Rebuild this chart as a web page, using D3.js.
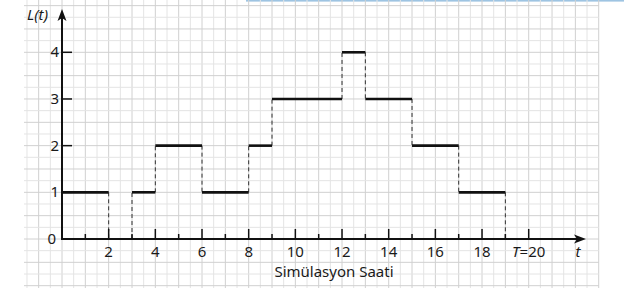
<!DOCTYPE html>
<html>
<head>
<meta charset="utf-8">
<script src="https://cdn.jsdelivr.net/npm/d3@7"></script>
<style>
  body { margin: 0; background: #fff; }
  svg { display: block; font-family: "Noto Sans", "Open Sans", sans-serif; }
</style>
</head>
<body>
<div id="chart"></div>
<script>
// step function L(t): level on [start, next start)
var stepStarts = [0, 2, 3, 4, 6, 8, 9, 12, 13, 15, 17, 19];
var stepLevels = [1, 0, 1, 2, 1, 2, 3, 4, 3, 2, 1, 0];
var endTime = 20;
var xTickLabels = [2, 4, 6, 8, 10, 12, 14, 16, 18];
var yTickLabels = [1, 2, 3, 4];

var width = 628, height = 288;

var svg = d3.select("#chart")
  .append("svg")
  .attr("width", width)
  .attr("height", height);

var x = d3.scaleLinear().domain([0, 20]).range([62, 528.7]);
var y = d3.scaleLinear().domain([0, 4]).range([239, 52.3]);

// light blue strip along the top
svg.append("rect")
  .attr("x", 246).attr("y", 0)
  .attr("width", 378).attr("height", 1.6)
  .attr("fill", "#9ec4e2");

// square paper grid
var grid = svg.append("g");
var gx = d3.range(-3, 48).map(function (k) { return k / 2; }).filter(function (v) { return x(v) >= 24 && x(v) <= 599; });
var gy = d3.range(-4, 22).map(function (k) { return k / 4; });

grid.selectAll(".gv")
  .data(gx)
  .enter()
  .append("line")
  .attr("x1", function (d) { return x(d); })
  .attr("x2", function (d) { return x(d); })
  .attr("y1", 0).attr("y2", height)
  .attr("stroke", function (d) { return d % 1 === 0 ? "#d0d0d0" : "#e4e4e4"; })
  .attr("stroke-width", 1);

grid.selectAll(".gh")
  .data(gy)
  .enter()
  .append("line")
  .attr("x1", 24).attr("x2", x(23))
  .attr("y1", function (d) { return y(d); })
  .attr("y2", function (d) { return y(d); })
  .attr("stroke", function (d) { return d % 0.5 === 0 ? "#d0d0d0" : "#e4e4e4"; })
  .attr("stroke-width", 1);

// segments
var segs = stepStarts.map(function (s, i) {
  return { x0: s, x1: i < stepStarts.length - 1 ? stepStarts[i + 1] : endTime, v: stepLevels[i] };
});

// dashed jumps
var jumps = [];
segs.forEach(function (d, i) {
  var next = i < segs.length - 1 ? segs[i + 1].v : 0;
  if (next !== d.v) jumps.push({ t: d.x1, a: d.v, b: next });
});

svg.selectAll(".jump")
  .data(jumps)
  .enter()
  .append("line")
  .attr("x1", function (d) { return x(d.t); })
  .attr("x2", function (d) { return x(d.t); })
  .attr("y1", function (d) { return y(d.a); })
  .attr("y2", function (d) { return y(d.b); })
  .attr("stroke", "#333")
  .attr("stroke-width", 1)
  .attr("stroke-dasharray", "4,3");

// horizontal levels
svg.selectAll(".seg")
  .data(segs.filter(function (d) { return d.v > 0; }))
  .enter()
  .append("line")
  .attr("x1", function (d) { return x(d.x0); })
  .attr("x2", function (d) { return x(d.x1); })
  .attr("y1", function (d) { return y(d.v); })
  .attr("y2", function (d) { return y(d.v); })
  .attr("stroke", "#111")
  .attr("stroke-width", 2.6);

// axes
var axisCol = "#111";
svg.append("line")
  .attr("x1", x(0)).attr("x2", 580)
  .attr("y1", y(0)).attr("y2", y(0))
  .attr("stroke", axisCol).attr("stroke-width", 2);
svg.append("path")
  .attr("d", "M586," + y(0) + "L574," + (y(0) - 4.5) + "L577," + y(0) + "L574," + (y(0) + 4.5) + "Z")
  .attr("fill", axisCol);

svg.append("line")
  .attr("x1", x(0)).attr("x2", x(0))
  .attr("y1", y(0) + 1).attr("y2", 15)
  .attr("stroke", axisCol).attr("stroke-width", 2);
svg.append("path")
  .attr("d", "M" + x(0) + ",9L" + (x(0) - 4.5) + ",21L" + x(0) + ",18L" + (x(0) + 4.5) + ",21Z")
  .attr("fill", axisCol);

// x ticks: long at even, short at odd
svg.selectAll(".xt")
  .data(d3.range(1, 21))
  .enter()
  .append("line")
  .attr("x1", function (d) { return x(d); })
  .attr("x2", function (d) { return x(d); })
  .attr("y1", y(0))
  .attr("y2", function (d) { return y(0) - (d % 2 === 0 ? 10 : 5); })
  .attr("stroke", axisCol).attr("stroke-width", 1.5);

// y ticks
svg.selectAll(".yt")
  .data(yTickLabels)
  .enter()
  .append("line")
  .attr("x1", x(0)).attr("x2", x(0) + 10)
  .attr("y1", function (d) { return y(d); })
  .attr("y2", function (d) { return y(d); })
  .attr("stroke", axisCol).attr("stroke-width", 1.5);

// labels
var fs = "15px";
var tc = "#1a1a1a";
svg.selectAll(".xl")
  .data(xTickLabels)
  .enter()
  .append("text")
  .attr("x", function (d) { return x(d); })
  .attr("y", 257)
  .attr("text-anchor", "middle")
  .style("font-size", fs)
  .attr("fill", tc)
  .text(function (d) { return d; });

svg.selectAll(".yl")
  .data(yTickLabels)
  .enter()
  .append("text")
  .attr("x", 59)
  .attr("y", function (d) { return y(d) + 5; })
  .attr("text-anchor", "end")
  .style("font-size", fs)
  .attr("fill", tc)
  .text(function (d) { return d; });

svg.append("text")
  .attr("x", 56).attr("y", y(0) + 5)
  .attr("text-anchor", "end")
  .style("font-size", fs)
  .attr("fill", tc)
  .text("0");

var tl = svg.append("text")
  .attr("x", x(endTime)).attr("y", 257)
  .attr("text-anchor", "middle")
  .style("font-size", fs)
  .attr("fill", tc);
tl.append("tspan").style("font-style", "italic").text("T");
tl.append("tspan").text("=" + endTime);

svg.append("text")
  .attr("x", 578).attr("y", 257)
  .attr("text-anchor", "middle")
  .style("font-size", fs)
  .style("font-style", "italic")
  .attr("fill", tc)
  .text("t");

svg.append("text")
  .attr("x", 27).attr("y", 20)
  .style("font-size", fs)
  .style("font-style", "italic")
  .attr("fill", tc)
  .text("L(t)");

svg.append("text")
  .attr("x", 334).attr("y", 277)
  .attr("text-anchor", "middle")
  .style("font-size", fs)
  .attr("fill", tc)
  .text("Simülasyon Saati");
</script>
</body>
</html>
